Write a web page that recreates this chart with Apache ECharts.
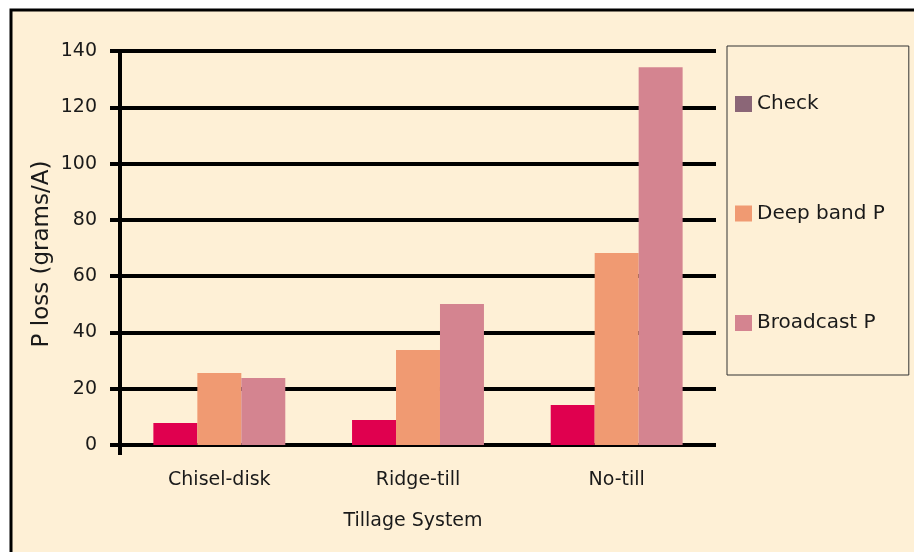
<!DOCTYPE html>
<html>
<head>
<meta charset="utf-8">
<script src="https://cdn.jsdelivr.net/npm/echarts@6/dist/echarts.min.js"></script>
<style>
  html, body { margin: 0; padding: 0; background: #ffffff; }
  #chart { width: 914px; height: 552px; }
</style>
</head>
<body>
<div id="chart"></div>
<script>
const categories = ['Chisel-disk', 'Ridge-till', 'No-till'];
const seriesNames = ['Check', 'Deep band P', 'Broadcast P'];
const checkValues = [7.8, 8.9, 14.2];
const deepBandValues = [25.6, 33.8, 68.2];
const broadcastValues = [23.8, 50.1, 134.2];
const yTicks = [0, 20, 40, 60, 80, 100, 120, 140];

const barColors = ['#E0004F', '#F09A72', '#D48490'];
const legendColors = ['#8B6677', '#F09A72', '#D48490'];
const FONT = 'DejaVu Sans';
const TXT = '#1a1a1a';

const chart = echarts.init(document.getElementById('chart'), null, { renderer: 'canvas' });

const option = {
  backgroundColor: '#ffffff',
  animation: false,
  textStyle: { fontFamily: FONT, color: TXT },
  graphic: [
    {
      type: 'rect', z: -10, silent: true,
      shape: { x: 11, y: 10, width: 1000, height: 1000 },
      style: { fill: '#FEF0D6', stroke: '#000', lineWidth: 3 }
    }
  ],
  grid: { left: 120, right: 198, top: 51, bottom: 107 },
  legend: {
    orient: 'vertical',
    left: 727, top: 46,
    padding: [48, 24, 42, 8],
    itemGap: 89.5,
    itemWidth: 17, itemHeight: 16,
    icon: 'rect',
    backgroundColor: '#FEF0D6',
    borderColor: '#333',
    borderWidth: 1,
    borderRadius: 0,
    textStyle: { fontFamily: FONT, fontSize: 20, color: TXT, lineHeight: 16 },
    data: seriesNames.map((n, i) => ({ name: n, itemStyle: { color: legendColors[i] } }))
  },
  xAxis: {
    type: 'category',
    data: categories,
    name: 'Tillage System',
    nameLocation: 'middle',
    nameGap: 67,
    nameMoveOverlap: false,
    nameTextStyle: { fontFamily: FONT, fontSize: 19, color: TXT, padding: [0, 10, 0, 0] },
    axisLine: { show: false },
    axisTick: { show: false },
    axisLabel: { fontFamily: FONT, fontSize: 19, color: TXT, margin: 26 }
  },
  yAxis: {
    type: 'value',
    min: yTicks[0], max: yTicks[yTicks.length - 1], interval: 20,
    name: 'P loss (grams/A)',
    nameLocation: 'middle',
    nameGap: 66,
    nameMoveOverlap: false,
    nameTextStyle: { fontFamily: FONT, fontSize: 23, color: TXT, padding: [0, 12, 0, 0] },
    axisLine: { show: true, lineStyle: { color: '#000', width: 4 } },
    axisTick: { show: true, length: 10, lineStyle: { color: '#000', width: 4 } },
    axisLabel: { fontFamily: FONT, fontSize: 19, color: TXT, margin: 23 },
    splitLine: { show: true, lineStyle: { color: '#000', width: 4 } }
  },
  series: [
    { name: seriesNames[0], type: 'bar', data: checkValues, itemStyle: { color: barColors[0] }, barGap: '0%', barCategoryGap: '33.6%' },
    { name: seriesNames[1], type: 'bar', data: deepBandValues, itemStyle: { color: barColors[1] }, barGap: '0%', barCategoryGap: '33.6%' },
    { name: seriesNames[2], type: 'bar', data: broadcastValues, itemStyle: { color: barColors[2] }, barGap: '0%', barCategoryGap: '33.6%' }
  ]
};

chart.setOption(option);

// extend y axis line a little below zero, positioned through the library's scales
const gridModel = chart.getModel().getComponent('grid', 0);
const rect = gridModel.coordinateSystem.getRect();
chart.setOption({
  graphic: [
    option.graphic[0],
    {
      type: 'line', z: 10, silent: true,
      shape: { x1: rect.x, y1: rect.y + rect.height, x2: rect.x, y2: rect.y + rect.height + 10 },
      style: { stroke: '#000', lineWidth: 4 }
    }
  ]
});
</script>
</body>
</html>
